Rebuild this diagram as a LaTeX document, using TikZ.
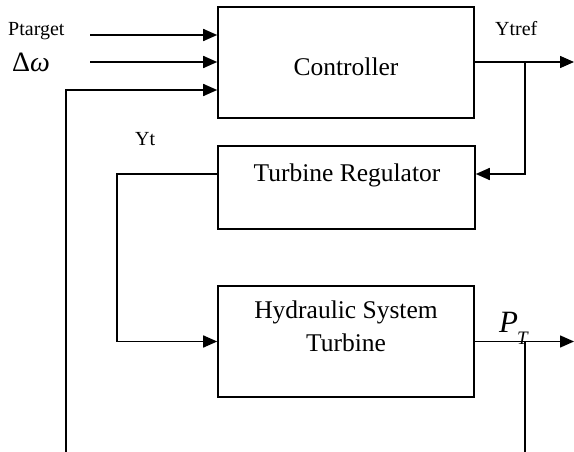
\documentclass[tikz,border=0pt]{standalone}
\usepackage{fontspec}
\setmainfont{Liberation Serif}
\usetikzlibrary{arrows.meta}
\begin{document}
\begin{tikzpicture}[x=1pt,y=-1pt,
  box/.style={draw,line width=1.6pt,inner sep=0pt},
  conn/.style={line width=1.6pt},
  arr/.style={conn,-{Triangle[length=14pt,width=12pt]}},
  big/.style={font=\fontsize{25.5}{30}\selectfont,inner sep=0pt},
  small/.style={font=\fontsize{20}{24}\selectfont,inner sep=0pt}]
\useasboundingbox[fill=white] (0,0) rectangle (574,452);
% boxes
\node[box,minimum width=256pt,minimum height=111pt] (ctrl) at (346,62.5) {};
\node[box,minimum width=257pt,minimum height=83pt] (reg) at (346.5,187.5) {};
\node[box,minimum width=256pt,minimum height=111pt] (hyd) at (346,341.5) {};
% box texts
\node[big,anchor=base] (tctrl) at (346,76) {Controller};
\node[big,anchor=base] (treg) at (347,182) {Turbine Regulator};
\node[big,anchor=base] (thyd1) at (346,318) {Hydraulic System};
\node[big,anchor=base] (thyd2) at (346,351) {Turbine};
% labels
\node[small,anchor=base west] (lpt) at (8,36) {Ptarget};
\node[font=\fontsize{28}{30}\selectfont,inner sep=0pt,anchor=base west] (ldw) at (12,72) {Δ\textit{ω}};
\node[small,anchor=base west] (lyt) at (135,146) {Yt};
\node[small,anchor=base west] (lytref) at (495,36) {Ytref};
\node[font=\fontsize{31}{34}\selectfont,inner sep=0pt,anchor=base west] (lP) at (499,332)
  {\textit{P}\kern-1pt\raisebox{-12pt}{\fontsize{19}{24}\selectfont\textit{T}}};
% coordinates
\coordinate (in1) at (90,35);
\coordinate (in2) at (90,62);
\coordinate (fbbot) at (66,452);
\coordinate (ytrefend) at (574,62);
\coordinate (ytrefbr) at (525,62);
\coordinate (ptend) at (574,341.5);
\coordinate (ptbr) at (525,341.5);
\coordinate (ptbot) at (525,452);
\coordinate (ytleft) at (117,174);
% connectors
\draw[arr] (in1) -- (in1 -| ctrl.west);
\draw[arr] (in2) -- (in2 -| ctrl.west);
\draw[arr] (fbbot) |- (ctrl.west |- 0,90);
\draw[arr] (ctrl.east |- ytrefend) -- (ytrefend);
\draw[arr] (ytrefbr) |- (reg.east |- 0,174);
\draw[arr] (reg.west |- ytleft) -- (ytleft) |- (hyd.west);
\draw[arr] (hyd.east) -- (ptend);
\draw[conn] (ptbr) -- (ptbot);
\end{tikzpicture}
\end{document}
